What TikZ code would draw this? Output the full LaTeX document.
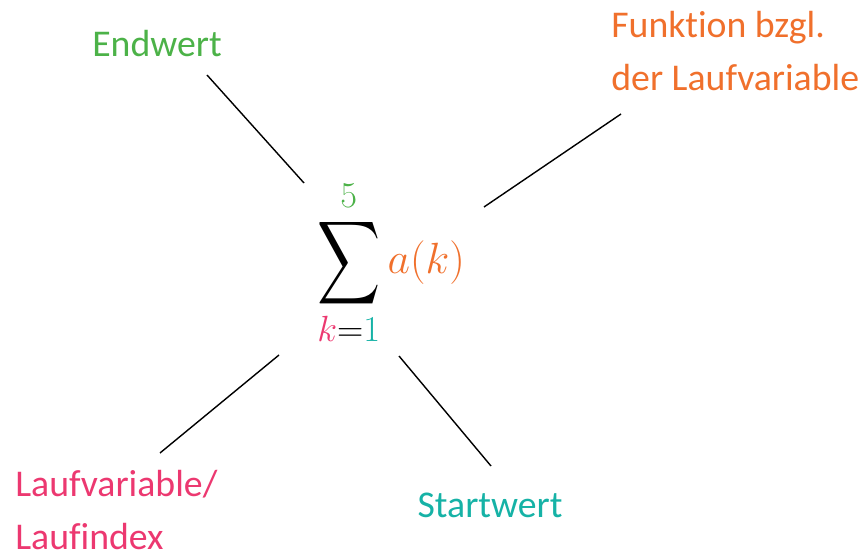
\documentclass[tikz,border=0pt]{standalone}
\usepackage{amsmath}
\usepackage{graphicx}
\usepackage{fontspec}
\setmainfont{Carlito}[Ligatures=CommonOff]
\usetikzlibrary{positioning}

\definecolor{endgreen}{RGB}{76,178,72}
\definecolor{funcorange}{RGB}{240,112,44}
\definecolor{indexpink}{RGB}{236,56,112}
\definecolor{startteal}{RGB}{22,178,166}

\newcommand{\bigsigma}{\mathop{\vcenter{\hbox{\scalebox{1}[1.33]{$\displaystyle\sum$}}}}}

\tikzset{
  label text/.style={inner sep=0pt, font=\fontsize{21.5}{30}\selectfont},
  pointer/.style={draw=black, line width=0.8pt}
}

\begin{document}
\begin{tikzpicture}[x=0.02cm, y=-0.02cm]
  \useasboundingbox (0,0) rectangle (859,557);

  % the sum in the middle
  \node[inner sep=0pt, font=\fontsize{31}{36}\selectfont] (summe) at (391,263)
    {$\displaystyle\bigsigma\limits_{\textcolor{indexpink}{k}=\textcolor{startteal}{1}}^{\textcolor{endgreen}{5}}
      \textcolor{funcorange}{a(k)}$};

  % labels
  \node[label text, text=endgreen] (endwert) at (157,44) {Endwert};
  \node[label text, text=funcorange, align=left, anchor=west] (funktion) at (611,51)
    {Funktion bzgl.\\der Laufvariable};
  \node[label text, text=indexpink, align=left, anchor=west] (laufvar) at (15,510)
    {Laufvariable/\\Laufindex};
  \node[label text, text=startteal] (startwert) at (490,505) {Startwert};

  % line ends
  \coordinate (e1) at (207,75);   \coordinate (e2) at (304,183);
  \coordinate (f1) at (621,114);  \coordinate (f2) at (484,207);
  \coordinate (l1) at (160,453);  \coordinate (l2) at (279,355);
  \coordinate (s1) at (491,466);  \coordinate (s2) at (399,356);

  \draw[pointer] (e1) -- (e2);
  \draw[pointer] (f1) -- (f2);
  \draw[pointer] (l1) -- (l2);
  \draw[pointer] (s1) -- (s2);
\end{tikzpicture}
\end{document}
